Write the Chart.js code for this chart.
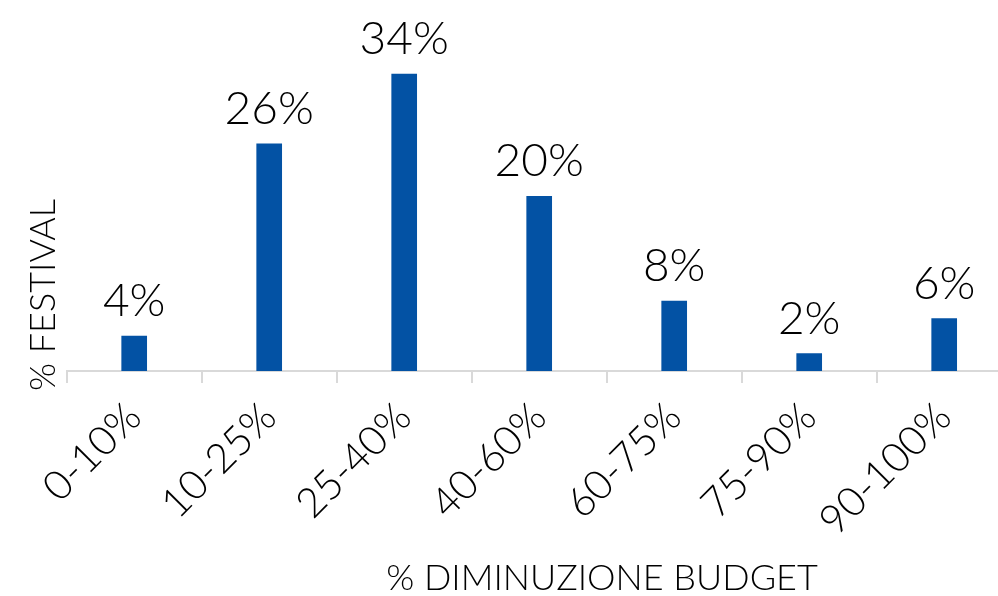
<!DOCTYPE html>
<html>
<head>
<meta charset="utf-8">
<script src="https://cdn.jsdelivr.net/npm/chart.js@4/dist/chart.umd.min.js"></script>
<style>
html,body{margin:0;padding:0;background:#fff;overflow:hidden;width:998px;height:596px;}
canvas{display:block;}
</style>
</head>
<body>
<canvas id="c" width="1030" height="596"></canvas>
<script>
const categories = ['0-10%', '10-25%', '25-40%', '40-60%', '60-75%', '75-90%', '90-100%'];
const values = [4, 26, 34, 20, 8, 2, 6];
const xTitle = '% DIMINUZIONE BUDGET';
const yTitle = '% FESTIVAL';

const FONT = 'Lato, "Open Sans", sans-serif';
const WEIGHT = '300';

const labelsPlugin = {
  id: 'labelsPlugin',
  afterDatasetsDraw(chart) {
    const ctx = chart.ctx;
    const meta = chart.getDatasetMeta(0);
    ctx.save();
    ctx.fillStyle = '#000';
    ctx.font = WEIGHT + ' 46px ' + FONT;
    ctx.textAlign = 'center';
    ctx.textBaseline = 'alphabetic';
    meta.data.forEach((bar, i) => {
      ctx.fillText(values[i] + '%', bar.x, bar.y - 20);
    });
    ctx.restore();
  },
  afterDraw(chart) {
    const ctx = chart.ctx;
    ctx.save();
    ctx.fillStyle = '#000';
    ctx.font = WEIGHT + ' 36px ' + FONT;
    ctx.textAlign = 'center';
    ctx.textBaseline = 'alphabetic';
    ctx.fillText(xTitle, 602, 590);
    ctx.translate(55, 295);
    ctx.rotate(-Math.PI / 2);
    ctx.fillText(yTitle, 0, 0);
    ctx.restore();
  }
};

new Chart(document.getElementById('c'), {
  type: 'bar',
  data: {
    labels: categories,
    datasets: [{
      data: values,
      backgroundColor: '#0352A4',
      borderWidth: 0,
      barThickness: 25
    }]
  },
  options: {
    responsive: false,
    animation: false,
    devicePixelRatio: 1,
    layout: { padding: { top: 21.6, right: 18.3, bottom: 0, left: 0 } },
    plugins: { legend: { display: false }, tooltip: { enabled: false } },
    scales: {
      x: {
        grid: { display: true, drawOnChartArea: false, offset: true, tickLength: 12, color: '#d9d9d9', lineWidth: 2 },
        border: { display: true, color: '#d9d9d9', width: 2 },
        ticks: { color: '#000', font: { family: FONT, size: 41, weight: WEIGHT }, minRotation: 45, maxRotation: 45, padding: 10, autoSkip: false },
        afterFit(scale) { scale.height = 225; }
      },
      y: {
        min: 0, max: 40,
        grid: { display: false },
        border: { display: false },
        ticks: { display: false },
        afterFit(scale) { scale.width = 66.7; }
      }
    }
  },
  plugins: [labelsPlugin]
});
</script>
</body>
</html>
